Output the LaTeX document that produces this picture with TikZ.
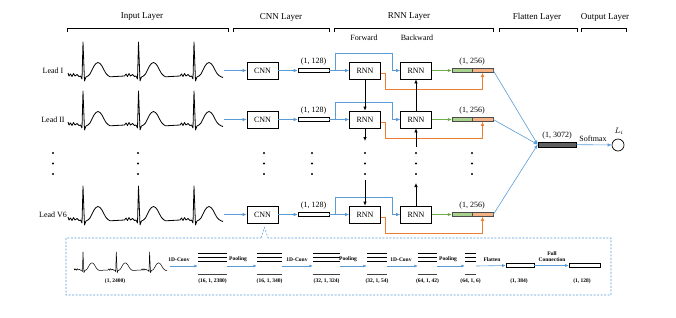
\documentclass[tikz,border=0pt]{standalone}
\usepackage{fontspec}
\setmainfont{Liberation Serif}
\usetikzlibrary{arrows.meta,calc}
\definecolor{bl}{RGB}{91,155,213}
\definecolor{og}{RGB}{237,125,49}
\definecolor{gr}{RGB}{112,173,71}
\definecolor{grf}{RGB}{169,209,142}
\definecolor{ogf}{RGB}{244,177,131}
\definecolor{flf}{RGB}{95,95,95}
\newcommand\ecgtrace[1]{%
  \draw[#1] (-15,-3) \foreach \r in {0,55.5,111}{
    -- (\r-14,0) -- (\r-12.5,-2) -- (\r-11,0.5) -- (\r-9.5,-2.5) -- (\r-8,0) -- (\r-6,-1.5)
    -- (\r-4,0.5) -- (\r-2.5,0) -- (\r-1,3) -- (\r,-34) -- (\r+1.5,5) -- (\r+3,1) -- (\r+5,0)
    -- (\r+7,-2) -- (\r+9,-6) -- (\r+11,-10) -- (\r+13,-12.5) -- (\r+15,-13.5) -- (\r+17,-12.5)
    -- (\r+19,-10) -- (\r+21,-6) -- (\r+23,-2.5) -- (\r+25,-0.5) -- (\r+27,0.8)} -- (140,1.5);}
\newcommand\featmap[4]{%
  \node[inner sep=0pt,minimum height=7pt,minimum width={#3pt-#2pt}] (#1) at ({(#2+#3)/2},257.5) {};
  \draw[fmline] (#1.north west) -- (#1.north east) (#1.west) -- (#1.east) (#1.south west) -- (#1.south east);
  \draw[dline] ([yshift=-13pt]#1.south west) -- ([yshift=-13pt]#1.south east);
  \node[sl] at ({(#2+#3)/2},281) {#4};}
\begin{document}
\begin{tikzpicture}[x=1pt,y=-1pt,
  cellbox/.style={draw,line width=0.7pt,minimum width=31pt,minimum height=17pt,inner sep=0pt,font=\fontsize{8}{9}\selectfont},
  vecbox/.style={draw,line width=0.6pt,minimum width=31pt,minimum height=4pt,inner sep=0pt},
  lbl/.style={font=\fontsize{8}{9}\selectfont,inner sep=0pt},
  ttl/.style={font=\fontsize{9}{10}\selectfont,inner sep=0pt},
  sl/.style={font=\fontsize{5.5}{6}\selectfont\bfseries,inner sep=0pt},
  al/.style={font=\fontsize{5.5}{6}\selectfont\bfseries,inner sep=0pt,anchor=south,align=center},
  barr/.style={bl,line width=0.6pt,-{Latex[length=4pt,width=3.5pt]}},
  sarr/.style={bl,line width=0.6pt,-{Latex[length=3.5pt,width=3pt]}},
  garr/.style={gr,line width=0.6pt,-{Latex[length=4pt,width=3.5pt]}},
  oarr/.style={og,line width=0.6pt,-{Latex[length=4pt,width=3.5pt]}},
  karr/.style={black,line width=0.7pt,-{Latex[length=4pt,width=3.5pt]}},
  brk/.style={line width=0.7pt},
  ecg/.style={line width=0.8pt,line join=round},
  secg/.style={line width=0.5pt,line join=round},
  fmline/.style={line width=0.8pt},
  dline/.style={line width=0.8pt,black!75},
]
\useasboundingbox (0,0) rectangle (676,317);
% titles and brackets
\node[ttl] (tin) at (142,17) {Input Layer};
\node[ttl] (tcnn) at (281,17) {CNN Layer};
\node[ttl] (trnn) at (409,17) {RNN Layer};
\node[ttl] (tfl) at (537,17) {Flatten Layer};
\node[ttl] (tout) at (605,17) {Output Layer};
\foreach \a/\b in {67/228,233/329,334/493,499/577,581/626}
  \draw[brk] (\a,32) -- (\a,28) -- (\b,28) -- (\b,32);
\node[lbl] (tfw) at (364,38) {Forward};
\node[lbl] (tbw) at (417,38) {Backward};
% rows
\foreach \y/\lab/\n in {70.5/Lead I/a,119.5/Lead II/b,214.5/Lead V6/c}{
  \node[lbl] (lead\n) at (53,\y) {\lab};
  \begin{scope}[shift={(83,\y+5.5)}]
    \ecgtrace{ecg}
  \end{scope}
  \coordinate (ee\n) at (224,\y);
  \node[cellbox] (cnn\n) at (262.5,\y) {CNN};
  \node[vecbox] (v\n) at (313.5,\y) {};
  \node[lbl] (vl\n) at (313.5,\y-9) {(1, 128)};
  \node[cellbox] (f\n) at (365,\y) {RNN};
  \node[cellbox] (bk\n) at (416,\y) {RNN};
  \node[draw=black!70,fill=grf,line width=0.5pt,minimum width=20pt,minimum height=4pt,inner sep=0pt] (og\n) at (462,\y) {};
  \node[draw=black!70,fill=ogf,line width=0.5pt,minimum width=21pt,minimum height=4pt,inner sep=0pt] (oo\n) at (482.5,\y) {};
  \node[lbl] (ol\n) at (472,\y-9) {(1, 256)};
  \coordinate (br\n) at (335,\y);
  \draw[barr] (ee\n) -- (cnn\n);
  \draw[barr] (cnn\n) -- (v\n);
  \draw[barr] (v\n.east) -- (f\n.west);
  \draw[barr] (br\n) -- ++(0,-17) -| ($(bk\n.west)+(-8,0)$) -- (bk\n.west);
  \draw[garr] (bk\n.east) -- (og\n.west);
  \draw[oarr] ([yshift=-2.5pt]f\n.east) -- ++(4,0) -- ++(0,16) -| (oo\n.south);
}
% flatten and output
\node[draw,fill=flf,line width=0.6pt,minimum width=38pt,minimum height=5pt,inner sep=0pt] (flat) at (557,144.5) {};
\node[lbl] (fll) at (557,136) {(1, 3072)};
\foreach \n in {a,b,c} \draw[barr] (oo\n.east) -- (flat.west);
\node[circle,draw,line width=0.7pt,minimum size=12pt,inner sep=0pt] (out) at (618,145) {};
\draw[barr] (flat) -- (out);
\node[lbl] (smx) at (593,139) {Softmax};
\node[lbl] (li) at (619,131) {$L_i$};
% vertical rnn arrows
\draw[karr] (fa) -- (fb);
\draw[karr] (bkb) -- (bka);
\coordinate (fbend) at (365,141);
\coordinate (bkbst) at (416,147);
\coordinate (fcst) at (365,180);
\coordinate (bkcend) at (416,183);
\draw[karr] (fb) -- (fbend);
\draw[karr] (bkbst) -- (bkb);
\draw[karr] (fcst) -- (fc);
\draw[karr] (bkc) -- (bkcend);
% dots
\foreach \x in {53,138,264,312,365,416,472}
  \foreach \yy in {153,163.5,174}
    \fill (\x,\yy) circle (1.1pt);
% detail panel
\draw[bl,line width=0.6pt,dash pattern=on 2pt off 1.5pt] (261,238) -- (264.5,227.5) -- (268,238) -- (611,238) -- (611,295) -- (66,295) -- (66,238) -- cycle;
\begin{scope}[shift={(83,270)},xscale=0.6,yscale=0.53]
  \ecgtrace{secg}
\end{scope}
\node[sl] (sel) at (115,281) {(1, 2400)};
\coordinate (se) at (170,266);
\featmap{m1}{198}{227}{(16, 1, 2380)}
\featmap{m2}{257}{282}{(16, 1, 340)}
\featmap{m3}{313}{340}{(32, 1, 324)}
\featmap{m4}{367}{387}{(32, 1, 54)}
\featmap{m5}{418}{437}{(64, 1, 42)}
\featmap{m6}{465}{476}{(64, 1, 6)}
\node[draw,line width=0.6pt,minimum width=28pt,minimum height=3.5pt,inner sep=0pt] (r1) at (520,265.5) {};
\node[draw,line width=0.6pt,minimum width=31pt,minimum height=3.5pt,inner sep=0pt] (r2) at (584.5,265.5) {};
\node[sl] (r1l) at (519,281) {(1, 384)};
\node[sl] (r2l) at (582,281) {(1, 128)};
\draw[sarr] (se) -- ([yshift=-8.5pt]m1.west);
\draw[sarr] ([yshift=-8.5pt]m1.east) -- ([yshift=-8.5pt]m2.west);
\draw[sarr] ([yshift=-8.5pt]m2.east) -- ([yshift=-8.5pt]m3.west);
\draw[sarr] ([yshift=-8.5pt]m3.east) -- ([yshift=-8.5pt]m4.west);
\draw[sarr] ([yshift=-8.5pt]m4.east) -- ([yshift=-8.5pt]m5.west);
\draw[sarr] ([yshift=-8.5pt]m5.east) -- ([yshift=-8.5pt]m6.west);
\draw[sarr] ([yshift=-8.5pt]m6.east) -- (r1.west);
\draw[sarr] (r1.east) -- (r2.west);
\node[al] at (179,262) {1D-Conv};
\node[al] at (238,262) {Pooling};
\node[al] at (297,262) {1D-Conv};
\node[al] at (348,262) {Pooling};
\node[al] at (401,262) {1D-Conv};
\node[al] at (448,262) {Pooling};
\node[al] at (492,262) {Flatten};
\node[al] at (552,262) {Full\\Connection};
\end{tikzpicture}
\end{document}
